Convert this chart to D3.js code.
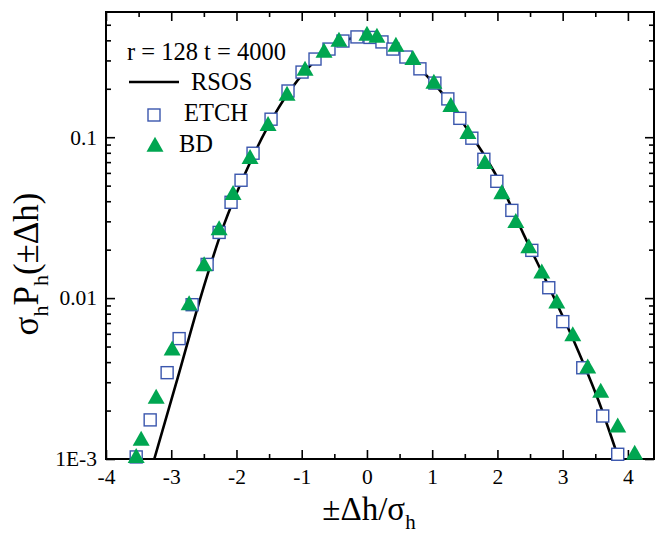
<!DOCTYPE html>
<html>
<head>
<meta charset="utf-8">
<script src="https://cdn.jsdelivr.net/npm/d3@7"></script>
<style>
  html, body { margin: 0; padding: 0; background: #fff; }
  svg { display: block; }
  text { font-family: "Liberation Serif", "Times New Roman", serif; fill: #000; }
</style>
</head>
<body>
<svg id="chart" width="658" height="533"></svg>
<script>
// ---- data ----
const xTicks = [-4, -3, -2, -1, 0, 1, 2, 3, 4];
const yTicks = [0.1, 0.01, 0.001];
const yTickLabels = ["0.1", "0.01", "1E-3"];

const rsosX = [-3.26, -2.9, -2.56, -2.2, -1.84, -1.5, -1.2, -0.9, -0.6, -0.3, 0.0, 0.3, 0.6, 0.9, 1.2, 1.5, 1.75, 2.0, 2.4, 2.8, 3.2, 3.55, 3.86];
const rsosY = [0.0010, 0.0032, 0.0098, 0.028, 0.063, 0.12, 0.19, 0.27, 0.35, 0.405, 0.425, 0.385, 0.315, 0.245, 0.178, 0.118, 0.083, 0.056, 0.025, 0.0115, 0.0051, 0.0023, 0.0010];

const etchX = [-3.537, -3.323, -3.063, -2.879, -2.680, -2.450, -2.266, -2.083, -1.930, -1.746, -1.470, -1.210, -0.995, -0.796, -0.582, -0.368, -0.153, 0.046, 0.230, 0.398, 0.597, 0.812, 1.041, 1.240, 1.424, 1.608, 1.792, 1.991, 2.221, 2.527, 2.787, 3.002, 3.308, 3.614, 3.844];
const etchY = [0.00103, 0.00175, 0.00344, 0.0056, 0.0091, 0.0162, 0.0256, 0.0394, 0.0540, 0.0795, 0.1294, 0.1937, 0.254, 0.306, 0.353, 0.396, 0.420, 0.417, 0.391, 0.353, 0.315, 0.266, 0.217, 0.173, 0.131, 0.0986, 0.0729, 0.0532, 0.0351, 0.0198, 0.0116, 0.00714, 0.00369, 0.00185, 0.00107];

const bdX = [-3.537, -3.461, -3.231, -2.986, -2.726, -2.496, -2.266, -2.052, -1.792, -1.516, -1.225, -0.949, -0.658, -0.429, 0.0, 0.153, 0.444, 0.704, 1.026, 1.286, 1.547, 1.807, 2.067, 2.282, 2.481, 2.680, 2.910, 3.155, 3.384, 3.583, 3.844, 4.104];
const bdY = [0.00104, 0.00133, 0.00243, 0.00484, 0.00925, 0.0162, 0.0271, 0.0448, 0.0750, 0.1205, 0.1853, 0.2655, 0.3436, 0.402, 0.4385, 0.4256, 0.374, 0.310, 0.220, 0.158, 0.1074, 0.0699, 0.0454, 0.0300, 0.0209, 0.0146, 0.0095, 0.00593, 0.00374, 0.00265, 0.00161, 0.00109];

const legendTitle = "r = 128 t = 4000";
const seriesNames = ["RSOS", "ETCH", "BD"];

// ---- layout ----
const L = 106, R = 654, T = 12, B = 459;
const svg = d3.select("#chart");
const x = d3.scaleLinear().domain([-4, 4.4]).range([L, R]);
const y = d3.scaleLog().domain([0.001, 0.6]).range([B, T]);

const squareColor = "#3a56ad";
const triColor = "#00a651";

// minor ticks
const xMinor = d3.range(-3.5, 4.4, 1);
const yMinor = [];
[0.001, 0.01, 0.1].forEach(d => { for (let k = 2; k <= 9; k++) { const v = d * k; if (v <= 0.6) yMinor.push(v); } });

const MAJ = 9, MIN = 5;
function styleAxis(g) {
  g.select(".domain").remove();
  g.selectAll(".tick line").attr("stroke", "#000").attr("stroke-width", 1.6);
}

// bottom axis (major with labels)
const gB = svg.append("g").attr("transform", `translate(0,${B})`)
  .call(d3.axisBottom(x).tickValues(xTicks).tickSize(-MAJ).tickPadding(10).tickFormat(d => String(d).replace("\u2212", "-")));
styleAxis(gB);
gB.selectAll("text").attr("font-size", 21.5).attr("font-family", "Liberation Serif, serif");
const gBm = svg.append("g").attr("transform", `translate(0,${B})`)
  .call(d3.axisBottom(x).tickValues(xMinor).tickSize(-MIN).tickFormat(""));
styleAxis(gBm);
// top axis
const gT = svg.append("g").attr("transform", `translate(0,${T})`)
  .call(d3.axisTop(x).tickValues(xTicks).tickSize(-MAJ).tickFormat(""));
styleAxis(gT);
const gTm = svg.append("g").attr("transform", `translate(0,${T})`)
  .call(d3.axisTop(x).tickValues(xMinor).tickSize(-MIN).tickFormat(""));
styleAxis(gTm);
// left axis
const gL = svg.append("g").attr("transform", `translate(${L},0)`)
  .call(d3.axisLeft(y).tickValues(yTicks).tickSize(-MAJ).tickPadding(9).tickFormat((d, i) => yTickLabels[i]));
styleAxis(gL);
gL.selectAll("text").attr("font-size", 21.5).attr("font-family", "Liberation Serif, serif");
const gLm = svg.append("g").attr("transform", `translate(${L},0)`)
  .call(d3.axisLeft(y).tickValues(yMinor).tickSize(-MIN).tickFormat(""));
styleAxis(gLm);
// right axis
const gR = svg.append("g").attr("transform", `translate(${R},0)`)
  .call(d3.axisRight(y).tickValues(yTicks).tickSize(-MAJ).tickFormat(""));
styleAxis(gR);
const gRm = svg.append("g").attr("transform", `translate(${R},0)`)
  .call(d3.axisRight(y).tickValues(yMinor).tickSize(-MIN).tickFormat(""));
styleAxis(gRm);

// frame
svg.append("rect").attr("x", L).attr("y", T).attr("width", R - L).attr("height", B - T)
  .attr("fill", "none").attr("stroke", "#000").attr("stroke-width", 2);

// clip
svg.append("clipPath").attr("id", "clip").append("rect")
  .attr("x", L).attr("y", T - 10).attr("width", R - L).attr("height", B - T + 10);

const plot = svg.append("g");

// RSOS line
const rsos = rsosX.map((v, i) => [v, rsosY[i]]);
plot.append("path").datum(rsos)
  .attr("clip-path", "url(#clip)")
  .attr("fill", "none").attr("stroke", "#000").attr("stroke-width", 2.6)
  .attr("d", d3.line().x(d => x(d[0])).y(d => y(d[1])).curve(d3.curveMonotoneX));

// ETCH squares
const sq = 12;
plot.selectAll("rect.etch").data(etchX.map((v, i) => [v, etchY[i]])).enter()
  .append("rect").attr("class", "etch")
  .attr("x", d => x(d[0]) - sq / 2).attr("y", d => y(d[1]) - sq / 2)
  .attr("width", sq).attr("height", sq)
  .attr("fill", "#fff").attr("stroke", squareColor).attr("stroke-width", 1.4);

// BD triangles
const triPath = (cx, cy) => {
  const w = 17, h = 15;
  return `M${cx},${cy - h * 0.55}L${cx + w / 2},${cy + h * 0.45}L${cx - w / 2},${cy + h * 0.45}Z`;
};
plot.selectAll("path.bd").data(bdX.map((v, i) => [v, bdY[i]])).enter()
  .append("path").attr("class", "bd")
  .attr("d", d => triPath(x(d[0]), y(d[1])))
  .attr("fill", triColor);

// legend
svg.append("text").attr("x", 127).attr("y", 60).attr("font-size", 24.5).text(legendTitle);
svg.append("line").attr("x1", 129).attr("x2", 179).attr("y1", 82).attr("y2", 82)
  .attr("stroke", "#000").attr("stroke-width", 2.6);
svg.append("text").attr("x", 191).attr("y", 90).attr("font-size", 24.5).text(seriesNames[0]);
svg.append("rect").attr("x", 154 - sq / 2).attr("y", 115 - sq / 2).attr("width", sq).attr("height", sq)
  .attr("fill", "#fff").attr("stroke", squareColor).attr("stroke-width", 1.4);
svg.append("text").attr("x", 184).attr("y", 121).attr("font-size", 24.5).text(seriesNames[1]);
svg.append("path").attr("d", triPath(155, 145)).attr("fill", triColor);
svg.append("text").attr("x", 179).attr("y", 152).attr("font-size", 24.5).text(seriesNames[2]);

// x axis title
const xt = svg.append("text").attr("x", 369).attr("y", 520).attr("text-anchor", "middle").attr("font-size", 33);
xt.append("tspan").text("\u00b1\u0394h/\u03c3");
xt.append("tspan").attr("font-size", 21).attr("dy", 9).text("h");

// y axis title
const yt = svg.append("text").attr("transform", "translate(38,264) rotate(-90)")
  .attr("text-anchor", "middle").attr("font-size", 35);
yt.append("tspan").text("\u03c3");
yt.append("tspan").attr("font-size", 22).attr("dy", 10).text("h");
yt.append("tspan").attr("dy", -10).text("P");
yt.append("tspan").attr("font-size", 22).attr("dy", 10).text("h");
yt.append("tspan").attr("dy", -10).text("(\u00b1\u0394h)");
</script>
</body>
</html>
